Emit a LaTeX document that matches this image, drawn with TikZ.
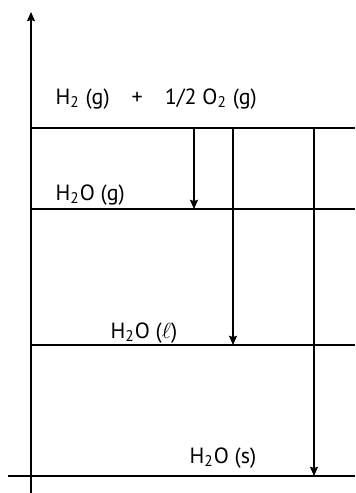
\documentclass[tikz,border=0pt]{standalone}
\usepackage{fontspec}
\setmainfont{PT Sans}
\usetikzlibrary{arrows.meta}
\begin{document}
\begin{tikzpicture}[x=0.5pt,y=-0.5pt,>={Stealth[length=4.6pt,width=4pt,inset=0.6pt]},
    line width=0.65pt,font=\fontsize{11}{13}\selectfont]
  \useasboundingbox (0,0) rectangle (355,493);
  % energy axis
  \coordinate (axbot) at (31,493);
  \coordinate (axtop) at (31,12);
  \draw[->] (axbot) -- (axtop);
  % levels
  \coordinate (reactL) at (31,128);  \coordinate (reactR) at (355,128);
  \coordinate (gasL) at (31,209);    \coordinate (gasR) at (355,209);
  \coordinate (liqL) at (31,345);    \coordinate (liqR) at (355,345);
  \coordinate (solL) at (8,476);     \coordinate (solR) at (355,476);
  \draw (reactL) -- (reactR);
  \draw (gasL) -- (gasR);
  \draw (liqL) -- (liqR);
  \draw (solL) -- (solR);
  \node[anchor=base west,inner sep=0pt] (react) at (55,104)
        {H\textsubscript{2} (g)\quad +\quad 1/2 O\textsubscript{2} (g)};
  \node[anchor=base west,inner sep=0pt] (gas) at (55,200) {H\textsubscript{2}O (g)};
  \node[anchor=base west,inner sep=0pt] (liq) at (110,338) {H\textsubscript{2}O ($\ell$)};
  \node[anchor=base west,inner sep=0pt] (sol) at (189,463) {H\textsubscript{2}O (s)};
  % transitions
  \coordinate (g1) at (194,128); \coordinate (g2) at (194,209);
  \coordinate (l1) at (233,128); \coordinate (l2) at (233,345);
  \coordinate (s1) at (314,128); \coordinate (s2) at (314,476);
  \draw[->] (g1) -- (g2);
  \draw[->] (l1) -- (l2);
  \draw[->] (s1) -- (s2);
\end{tikzpicture}
\end{document}
